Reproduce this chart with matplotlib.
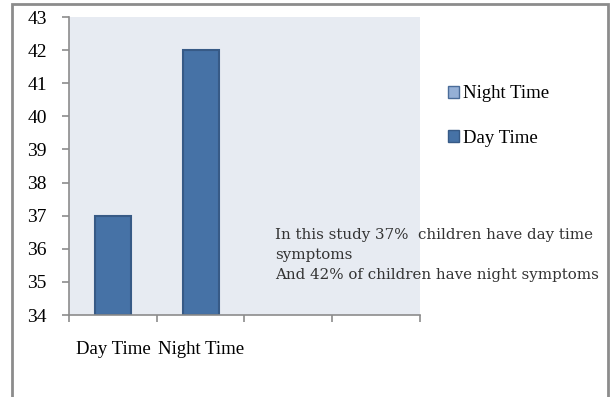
import matplotlib.pyplot as plt
from matplotlib.patches import Patch, Rectangle
from matplotlib.transforms import blended_transform_factory

categories = ["Day Time", "Night Time", "", ""]
values = [37, 42, None, None]
y_ticks = list(range(34, 44))
legend_labels = ["Night Time", "Day Time"]
note = ("In this study 37%  children have day time\n"
        "symptoms\n"
        "And 42% of children have night symptoms")

plt.rcParams['font.family'] = ['Liberation Serif', 'DejaVu Serif']

fig = plt.figure(figsize=(6.15, 3.97), dpi=100)
fig.patches.append(Rectangle((12 / 615, -0.05), (608 - 12) / 615, 1.05 - 4 / 397,
                             transform=fig.transFigure, fill=False,
                             edgecolor="#8c8c8c", linewidth=2))

ax = fig.add_axes([69 / 615, 1 - 315 / 397, (420 - 69) / 615, (315 - 17) / 397])
ax.set_facecolor("#e7ebf2")

xs = [i for i, v in enumerate(values) if v is not None]
hs = [v for v in values if v is not None]
ax.bar(xs, [h - 34 for h in hs], bottom=34, width=0.41,
       color="#4672a6", edgecolor="#375a86", linewidth=1.5)

ax.set_xlim(-0.5, len(categories) - 0.5)
ax.set_ylim(34, 43)
ax.set_yticks(y_ticks)
ax.set_yticklabels([str(t) for t in y_ticks], fontsize=14)
ax.set_xticks([i - 0.5 for i in range(len(categories) + 1)])
ax.set_xticklabels([])
for s in ["top", "right"]:
    ax.spines[s].set_visible(False)
for s in ["left", "bottom"]:
    ax.spines[s].set_color("#8c8c8c")
    ax.spines[s].set_linewidth(1.2)
ax.tick_params(axis="both", colors="#8c8c8c", length=5, width=1.2,
               labelcolor="black")
ax.tick_params(axis="y", pad=11)

trans = blended_transform_factory(ax.transData, fig.transFigure)
for i, c in enumerate(categories):
    if c:
        ax.text(i, 1 - 350 / 397, c, transform=trans, ha="center",
                va="center", fontsize=13.5)

handles = [Patch(facecolor="#95b0d6", edgecolor="#4a6c99"),
           Patch(facecolor="#4672a6", edgecolor="#375a86")]
fig.legend(handles, legend_labels, loc="upper left",
           bbox_to_anchor=(440 / 615, 1 - 78 / 397), frameon=False,
           fontsize=13.5, labelspacing=1.45, handlelength=0.6,
           handleheight=0.6, handletextpad=0.25, borderaxespad=0)

fig.text(275 / 615, 1 - 228 / 397, note, fontsize=10.8, va="top", ha="left",
         color="#333333", linespacing=1.55, family=["DejaVu Serif"])

fig.savefig("out.png", dpi=100)
